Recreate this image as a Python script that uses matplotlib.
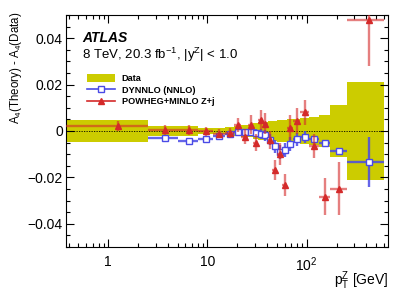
import numpy as np
import matplotlib
matplotlib.use('Agg')
import matplotlib.pyplot as plt
from matplotlib.patches import Patch
from matplotlib.lines import Line2D
from matplotlib.ticker import FixedLocator, FixedFormatter, LogLocator, MultipleLocator, NullFormatter

# pT(Z) bin edges [GeV]
edges = [0, 2.5, 5.0, 8.0, 11.4, 14.9, 18.5, 22.0, 25.5, 29.0, 32.6, 36.4, 40.4,
         44.9, 50.2, 56.4, 63.9, 73.4, 85.4, 105.0, 132.0, 173.0, 253.0, 600.0]

# half-width of the data uncertainty band
data_err = [0.0046, 0.0022, 0.0020, 0.0015, 0.0014, 0.0017, 0.0020, 0.0024, 0.0028,
            0.0034, 0.0037, 0.0040, 0.0042, 0.0044, 0.0046, 0.0048, 0.0050, 0.0053,
            0.0056, 0.0062, 0.0070, 0.0110, 0.0212]

dynnlo = [np.nan, -0.0032, -0.0042, -0.0035, -0.0020, -0.0013, -0.0006, -0.0003, -0.0006,
          -0.0009, -0.0013, -0.0019, -0.0037, -0.0066, -0.0092, -0.0080, -0.0056, -0.0036,
          -0.0027, -0.0036, -0.0051, -0.0085, -0.0132]
dynnlo_err = [np.nan, 0.0003, 0.0003, 0.0003, 0.0005, 0.0008, 0.0010, 0.0012, 0.0015,
              0.0018, 0.0020, 0.0022, 0.0025, 0.0028, 0.0030, 0.0030, 0.0030, 0.0028,
              0.0025, 0.0015, 0.0010, 0.0010, 0.0108]

powheg = [0.0022, 0.0004, 0.0004, -0.0002, -0.0012, -0.0010, 0.0026, -0.0025, 0.0028,
          -0.0050, 0.0047, 0.0032, -0.0038, -0.0168, -0.0098, -0.0232, 0.0014, 0.0042,
          0.0080, -0.0065, -0.0283, -0.0248, 0.0478]
powheg_err = [0.0023, 0.0022, 0.0022, 0.0020, 0.0020, 0.0022, 0.0032, 0.0032, 0.0040,
              0.0036, 0.0043, 0.0045, 0.0040, 0.0043, 0.0047, 0.0047, 0.0054, 0.0056,
              0.0052, 0.0050, 0.0080, 0.0113, 0.0197]

plt.rcParams['font.family'] = ['Liberation Sans', 'DejaVu Sans']
plt.rcParams['mathtext.fontset'] = 'custom'
plt.rcParams['mathtext.rm'] = 'Liberation Sans'
plt.rcParams['mathtext.it'] = 'Liberation Sans:italic'
plt.rcParams['mathtext.bf'] = 'Liberation Sans:bold'

W, H = 409, 294
fig = plt.figure(figsize=(W / 100, H / 100), dpi=100)
ax = fig.add_axes([65.7 / W, 1 - 247 / H, 322.3 / W, 232 / H])

xmin, xmax = 0.372, 661
e = np.array(edges, dtype=float)
e[0] = 0.1  # first bin starts at 0, draw it past the left edge
lo = e[:-1]
hi = e[1:]
centers = 0.5 * (np.array(edges[:-1]) + np.array(edges[1:]))

derr = np.array(data_err)
ax.stairs(derr, e, baseline=-derr, fill=True, color='#cccc00', lw=0, zorder=1)
ax.axhline(0, color='black', ls=(0, (1.5, 1.5)), lw=0.6, zorder=2)

blue = '#4a4ae6'
red = '#d42a2a'
dn = np.array(dynnlo)
ax.errorbar(centers, dn, yerr=dynnlo_err, xerr=[centers - lo, hi - centers],
            fmt='none', ecolor=blue, elinewidth=1.7, alpha=0.85, zorder=3)
ax.plot(centers, dn, ls='none', marker='s', ms=5, mfc='white', mec=blue, mew=1.0, zorder=4)

pw = np.array(powheg)
ax.errorbar(centers, pw, yerr=powheg_err, xerr=[centers - lo, hi - centers],
            fmt='none', ecolor=red, elinewidth=1.7, alpha=0.6, zorder=5)
ax.plot(centers, pw, ls='none', marker='^', ms=5, color=red, zorder=6)

ax.set_xscale('log')
ax.set_xlim(xmin, xmax)
ax.set_ylim(-0.05, 0.05)

ax.xaxis.set_major_locator(FixedLocator([1, 10, 100]))
ax.xaxis.set_major_formatter(FixedFormatter(['1', '10', r'10$^{\mathregular{2}}$']))
ax.xaxis.set_minor_locator(LogLocator(base=10, subs=np.arange(2, 10)))
ax.xaxis.set_minor_formatter(NullFormatter())
ax.yaxis.set_major_locator(FixedLocator([-0.04, -0.02, 0, 0.02, 0.04]))
ax.yaxis.set_major_formatter(FixedFormatter(['\u22120.04', '\u22120.02', '0', '0.02', '0.04']))
ax.yaxis.set_minor_locator(MultipleLocator(0.005))

ax.tick_params(which='both', direction='in', top=True, right=True, labelsize=10, width=0.8)
ax.tick_params(which='major', length=6)
ax.tick_params(which='minor', length=3)
ax.tick_params(axis='y', pad=2)
ax.tick_params(axis='x', pad=6)
for s in ax.spines.values():
    s.set_linewidth(0.8)

fig.text(82 / W, 1 - 38 / H, 'ATLAS', fontsize=10, fontweight='bold', fontstyle='italic', va='center')
fig.text(82 / W, 1 - 55 / H, r'8 TeV, 20.3 fb$^{\mathregular{-1}}$, |y$^{\mathregular{Z}}$| < 1.0',
         fontsize=9.5, va='center')
fig.text(16 / W, 1 - 12 / H, r'A$_{\mathregular{4}}$(Theory) - A$_{\mathregular{4}}$(Data)',
         fontsize=8.3, rotation=90, ha='center', va='top')
fig.text(388 / W, 1 - 281 / H, r'p$_{\mathregular{T}}^{\mathregular{Z}}$ [GeV]',
         fontsize=10, ha='right', va='center')

handles = [Patch(facecolor='#cccc00', edgecolor='none'),
           Line2D([], [], color=blue, marker='s', ms=4, mfc='white', mec=blue, lw=1.2),
           Line2D([], [], color=red, marker='^', ms=4, lw=1.2)]
labels = ['Data', 'DYNNLO (NNLO)', 'POWHEG+MINLO Z+j']
leg = ax.legend(handles, labels, loc='upper left', bbox_to_anchor=((87 - 65.7) / 322.3, (247 - 74) / 232),
                frameon=False, borderpad=0, borderaxespad=0, handlelength=3.1, handleheight=0.9,
                handletextpad=0.7, labelspacing=0.3, prop={'size': 6.6, 'weight': 'bold'})

fig.savefig('out.png', dpi=100)
